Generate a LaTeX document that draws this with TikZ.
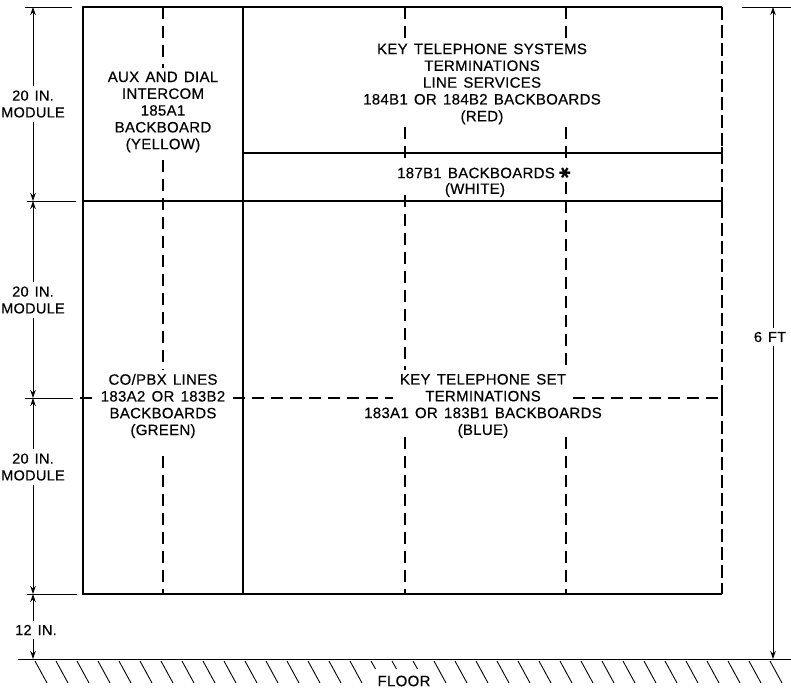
\documentclass[tikz,border=0pt]{standalone}
\usepackage{fontspec}
\setmainfont[WordSpace=1.4,LetterSpace=2,FakeBold=0.4]{Liberation Sans}
\newfontfamily\symfont{DejaVu Sans}
\usetikzlibrary{arrows.meta}
\begin{document}
\begin{tikzpicture}[x=1pt,y=-1pt,
  box/.style={line width=1.7pt},
  dsh/.style={line width=1.4pt, dash pattern=on 12pt off 7pt},
  rdsh/.style={line width=1.7pt, dash pattern=on 13pt off 5pt},
  ext/.style={line width=0.9pt},
  dimarrow/.style={line width=0.9pt, {Stealth[length=8pt,width=5.5pt]}-{Stealth[length=8pt,width=5.5pt]}},
  hatch/.style={line width=0.9pt},
  lbl/.style={font=\fontsize{15}{16.8}\selectfont, align=center, inner sep=1pt},
  dimlbl/.style={font=\fontsize{14.5}{16.8}\selectfont, align=center, fill=white, inner sep=4pt},
  ]
\useasboundingbox (0,0) rectangle (791,690);

% key coordinates
\coordinate (TL) at (83,7);
\coordinate (TR) at (722,7);
\coordinate (BL) at (83,594);
\coordinate (BR) at (722,594);
\coordinate (DT) at (243,7);
\coordinate (DB) at (243,594);

% outer frame
\draw[box] (TR) -- (TL) -- (BL) -- (BR);
\draw[rdsh] (TR) -- (BR);
\draw[box] (DT) -- (DB);
\draw[box] (83,201) -- (722,201);
\draw[box] (243,153) -- (722,153);
% small solid ends on the dashed right edge
\draw[box] (722,147) -- (722,159);
\draw[box] (722,195) -- (722,207);
\draw[box] (722,392) -- (722,404);
\draw[box] (722,586) -- (722,594);

% dashed verticals
\draw[dsh] (163,7) -- (163,68);
\draw[dsh] (163,160) -- (163,370);
\draw[dsh] (163,456) -- (163,594);
\draw[dsh] (405,7) -- (405,38);
\draw[dsh] (405,127) -- (405,160);
\draw[dsh] (405,195) -- (405,370);
\draw[dsh] (405,437) -- (405,594);
\draw[dsh] (566,7) -- (566,38);
\draw[dsh] (566,127) -- (566,160);
\draw[dsh] (566,182) -- (566,370);
\draw[dsh] (566,437) -- (566,594);

% dashed horizontal at 398
\draw[dsh] (80,398) -- (93,398);
\draw[dsh] (233,398) -- (393,398);
\draw[dsh] (573,398) -- (722,398);

% extension lines
\draw[ext] (25,7) -- (72,7);
\draw[ext] (27,201) -- (76,201);
\draw[ext] (25,398) -- (73,398);
\draw[ext] (27,594) -- (77,594);
\draw[ext] (742,7) -- (791,7);
\draw[ext] (18,659) -- (791,659);

% dimension coordinates
\coordinate (d0) at (33,7);
\coordinate (d1) at (33,201);
\coordinate (d2) at (33,398);
\coordinate (d3) at (33,594);
\coordinate (d4) at (33,659);
\coordinate (r0) at (773,7);
\coordinate (r1) at (773,659);

\draw[dimarrow] (d0) -- (d1);
\draw[dimarrow] (d1) -- (d2);
\draw[dimarrow] (d2) -- (d3);
\draw[dimarrow] (d3) -- (d4);
\draw[dimarrow] (r0) -- (r1);

\node[dimlbl] (m1) at (33,104) {20 IN.\\MODULE};
\node[dimlbl] (m2) at (33,300) {20 IN.\\MODULE};
\node[dimlbl] (m3) at (33,467) {20 IN.\\MODULE};
\node[dimlbl] (m4) at (36,630) {12 IN.};
\node[dimlbl] (ft) at (770,337) {6 FT};

% floor hatching
\foreach \k in {0,...,35}{
  \pgfmathsetmacro\hx{35+21*\k}
  \ifnum\k>15
    \ifnum\k<19
      \draw[hatch] (\hx,661) -- ++(4.5,8);
    \else
      \draw[hatch] (\hx,661) -- ++(12,22);
    \fi
  \else
    \draw[hatch] (\hx,661) -- ++(12,22);
  \fi
}
\node[lbl] (floor) at (404,681) {FLOOR};

% block labels
\node[lbl] (aux) at (163,112) {AUX AND DIAL\\INTERCOM\\185A1\\BACKBOARD\\(YELLOW)};
\node[lbl] (kts) at (482,84) {KEY TELEPHONE SYSTEMS\\TERMINATIONS\\LINE SERVICES\\184B1 OR 184B2 BACKBOARDS\\(RED)};
\node[lbl] (w1) at (476,173) {187B1 BACKBOARDS};
\node[lbl] (w2) at (475,190) {(WHITE)};
\node[inner sep=0pt, rotate=90, font=\symfont\fontsize{15}{15}\selectfont] (star) at (565,173) {✱};
\node[lbl] (co) at (163,406) {CO/PBX LINES\\183A2 OR 183B2\\BACKBOARDS\\(GREEN)};
\node[lbl] (kset) at (483,406) {KEY TELEPHONE SET\\TERMINATIONS\\183A1 OR 183B1 BACKBOARDS\\(BLUE)};
\end{tikzpicture}
\end{document}
